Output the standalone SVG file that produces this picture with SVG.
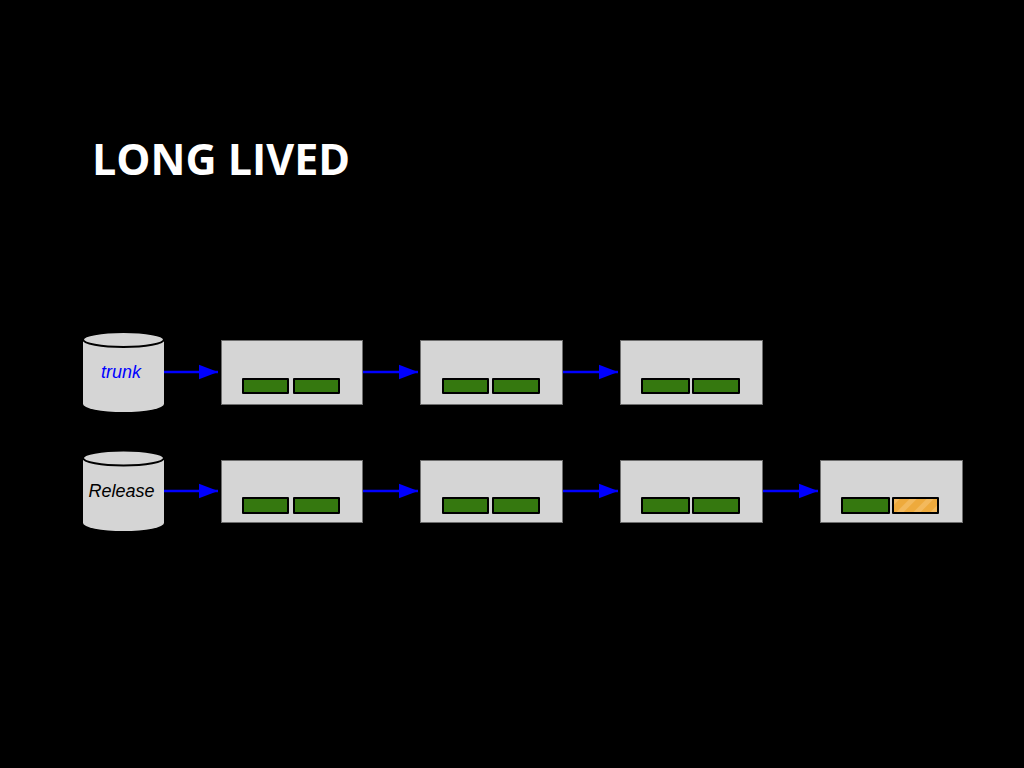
<svg xmlns="http://www.w3.org/2000/svg" width="1024" height="768" viewBox="0 0 1024 768">
<style>
.box{fill:#d5d5d5;stroke:#6e6e6e;stroke-width:1}
.g{fill:#35780f;stroke:#000;stroke-width:2;stroke-linejoin:round}
.o{fill:url(#hatch);stroke:#000;stroke-width:2;stroke-linejoin:round}
.cyl{fill:#d5d5d5}
.cap{fill:#d5d5d5;stroke:#000;stroke-width:2}
.lbl{font-family:"Liberation Sans",Arial,sans-serif;font-style:italic;font-size:18px;text-anchor:middle}
.c{stroke:#0000ff;stroke-width:2.5;fill:none;marker-end:url(#a)}
</style>
<defs>
<marker id="a" markerUnits="userSpaceOnUse" markerWidth="20" markerHeight="16" refX="19" refY="8" orient="auto"><path d="M0 0.8L19 8L0 15.2Z" fill="#0000ff"/></marker>
<pattern id="hatch" patternUnits="userSpaceOnUse" width="12" height="12" patternTransform="rotate(45)"><rect width="12" height="12" fill="#eeaa3c"/><rect width="5" height="12" fill="#f3b95c"/></pattern>
</defs>
<rect width="1024" height="768" fill="#000"/>
<text id="title" x="92" y="175" font-family="'Open Sans','Noto Sans',sans-serif" font-weight="700" font-size="43" fill="#fff">LONG LIVED</text>
<g id="connectors">
<path class="c" d="M163 372H218"/><path class="c" d="M362 372H418"/><path class="c" d="M562 372H618"/>
<path class="c" d="M162 491H218"/><path class="c" d="M362 491H418"/><path class="c" d="M562 491H618"/><path class="c" d="M762 491H818"/>
</g>
<g id="trunk"><path class="cyl" d="M83 339.500V404A40.500 8 0 0 0 164 404V339.500Z"/><ellipse class="cap" cx="123.500" cy="339.500" rx="40.500" ry="7.500"/><text class="lbl" x="121" y="378" fill="#0000ff">trunk</text></g>
<g id="release"><path class="cyl" d="M83 458V523A40.500 8 0 0 0 164 523V458Z"/><ellipse class="cap" cx="123.500" cy="458" rx="40.500" ry="7.500"/><text class="lbl" x="121.500" y="497" fill="#000">Release</text></g>
<g id="t1"><rect class="box" x="221.500" y="340.500" width="141" height="64"/><rect class="g" x="243" y="379" width="45" height="14"/><rect class="g" x="294" y="379" width="45" height="14"/></g>
<g id="t2"><rect class="box" x="420.500" y="340.500" width="142" height="64"/><rect class="g" x="443" y="379" width="45" height="14"/><rect class="g" x="493" y="379" width="46" height="14"/></g>
<g id="t3"><rect class="box" x="620.500" y="340.500" width="142" height="64"/><rect class="g" x="642" y="379" width="47" height="14"/><rect class="g" x="693" y="379" width="46" height="14"/></g>
<g id="r1"><rect class="box" x="221.500" y="460.500" width="141" height="62"/><rect class="g" x="243" y="498" width="45" height="15"/><rect class="g" x="294" y="498" width="45" height="15"/></g>
<g id="r2"><rect class="box" x="420.500" y="460.500" width="142" height="62"/><rect class="g" x="443" y="498" width="45" height="15"/><rect class="g" x="493" y="498" width="46" height="15"/></g>
<g id="r3"><rect class="box" x="620.500" y="460.500" width="142" height="62"/><rect class="g" x="642" y="498" width="47" height="15"/><rect class="g" x="693" y="498" width="46" height="15"/></g>
<g id="r4"><rect class="box" x="820.500" y="460.500" width="142" height="62"/><rect class="g" x="842" y="498" width="47" height="15"/><rect class="o" x="893" y="498" width="45" height="15"/></g>
</svg>
